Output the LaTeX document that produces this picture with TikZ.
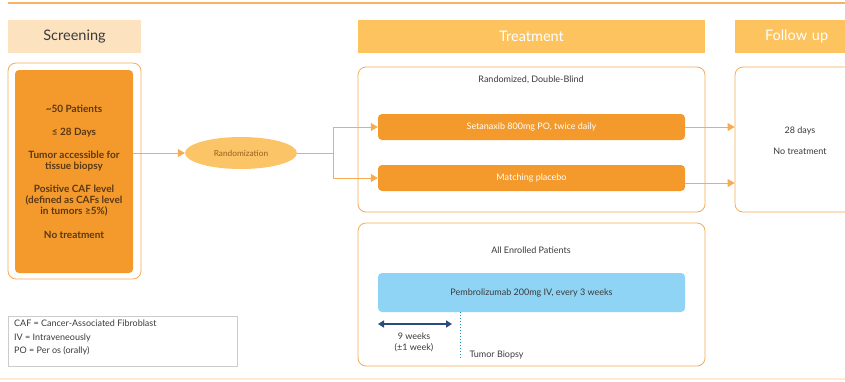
\documentclass[tikz,border=0pt]{standalone}
\usepackage{fontspec}
\setmainfont{Lato}
\usetikzlibrary{shapes.geometric,arrows.meta}

\definecolor{orline}{HTML}{F5AC52}
\definecolor{orfill}{HTML}{F49A2C}
\definecolor{hdrpale}{HTML}{FCE2BF}
\definecolor{hdrgold}{HTML}{FCC35E}
\definecolor{randfill}{HTML}{FBC467}
\definecolor{pembro}{HTML}{8FD4F4}
\definecolor{navy}{HTML}{2A4B7C}
\definecolor{txt}{HTML}{3A3A3A}
\definecolor{brown}{HTML}{5A3812}

\tikzset{
    hdr/.style={fill=#1, minimum height=33, inner sep=0, font=\fontsize{14.5}{16}\selectfont},
    phase/.style={draw=orline, fill=white, rounded corners=8, line width=0.8},
    bar/.style={fill=#1, rounded corners=4, minimum width=307, minimum height=26, inner sep=0,
        font=\fontsize{9}{11}\selectfont},
    small/.style={font=\fontsize{9}{11}\selectfont, text=txt, align=center},
    flow/.style={orline, line width=1, -{Triangle[length=7,width=8]}},
}

\begin{document}
\begin{tikzpicture}[x=1pt,y=-1pt]
    \useasboundingbox (0,0) rectangle (845,381);
    %\draw[gray!30, step=50] (0,0) grid (845,381);
    \draw[orline!90, line width=1.4] (8,3) -- (845,3);
    \draw[hdrpale!70, line width=2] (0,379) -- (845,379);

    % phase headers
    \node[hdr=hdrpale, text=txt, minimum width=133] (screenhdr) at (74.5,36.5) {Screening};
    \node[hdr=hdrgold, text=white, minimum width=347] (treathdr) at (531.5,36.5) {Treatment};
    \node[hdr=hdrgold, text=white, minimum width=130, text width=110, align=left] (followhdr) at (800,36.5) {\hspace*{20pt}Follow up};

    % screening
    \node[phase, minimum width=133, minimum height=216] (screen) at (74.5,171) {};
    \node[fill=orfill, rounded corners=4, minimum width=118, minimum height=203] (scrin) at (74,171.5) {};
    \node[small, text=brown, font=\fontsize{10}{11}\selectfont\bfseries] (scrtext) at (scrin.center) {%
        \textasciitilde50 Patients\\[12pt]
        ≤ 28 Days\\[12pt]
        Tumor accessible for\\ tissue biopsy\\[12pt]
        Positive CAF level\\ (defined as CAFs level\\ in tumors ≥5\%)\\[13pt]
        No treatment};

    \node[ellipse, fill=randfill, minimum width=112, minimum height=32, inner sep=0,
        font=\fontsize{8.3}{9}\selectfont, text=brown!60!orfill] (rand) at (241,153) {Randomization};
    \draw[flow] (rand.west -| scrin.east) -- (rand.west);

    % treatment
    \node[phase, minimum width=347, minimum height=145] (blind) at (531.5,139.5) {};
    \node[small] (blindlbl) at (531,80) {Randomized, Double-Blind};
    \node[bar=orfill, text=white] (seta) at (531.5,127) {Setanaxib 800mg PO, twice daily};
    \node[bar=orfill, text=white] (placebo) at (531.5,178) {Matching placebo};

    \draw[orline, line width=1] (rand.east) -- (333,153) coordinate (split);
    \draw[flow] (split) |- (seta.west);
    \draw[flow] (split) |- (placebo.west);

    % follow up
    \node[phase, minimum width=130, minimum height=145] (follow) at (800,139.5) {};
    \node[small] (followtxt) at (800,141) {28 days\\[10pt] No treatment};
    \draw[flow] (seta.east) -- (seta.east -| follow.west);
    \draw[flow] ([yshift=-5]placebo.east) -- ([yshift=-5]placebo.east -| follow.west);

    % all patients
    \node[phase, minimum width=347, minimum height=143] (allpts) at (531.5,294.5) {};
    \node[small] (alllbl) at (531,250) {All Enrolled Patients};
    \node[bar=pembro, text=txt, minimum height=39] (pem) at (531.5,292.5) {Pembrolizumab 200mg IV, every 3 weeks};
    \coordinate (biopsy) at (460,358);
    \draw[navy!60!cyan, line width=1, dotted] (pem.south -| biopsy) -- (biopsy);
    \node[small, anchor=west] (biopsylbl) at (466,355) {Tumor Biopsy};
    \coordinate (wkstart) at (378,324);
    \coordinate (wkend) at (452,324);
    \draw[navy, line width=1.6, {Triangle[length=6,width=7]}-{Triangle[length=6,width=7]}] (wkstart) -- (wkend);
    \node[small] (wklbl) at (414,342) {9 weeks\\ (±1 week)};

    % abbreviations
    \node[draw=gray!40, line width=0.6, minimum width=229, minimum height=50, inner sep=0] (legend) at (122.5,341) {};
    \node[anchor=north west, font=\fontsize{9}{13.5}\selectfont, text=txt, align=left, inner sep=0] (legendtxt)
        at (14,320) {CAF = Cancer-Associated Fibroblast\\ IV = Intraveneously\\ PO = Per os (orally)};

\end{tikzpicture}
\end{document}
